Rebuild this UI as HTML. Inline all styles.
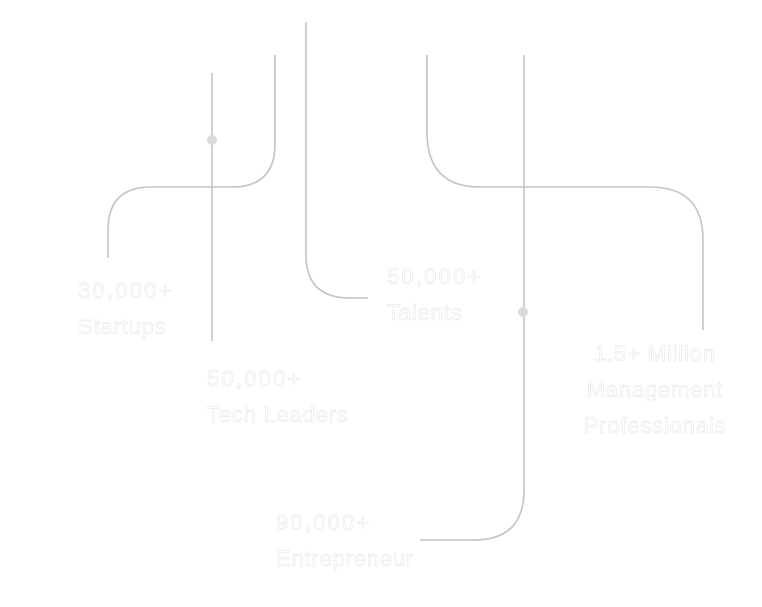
<!DOCTYPE html>
<html><head><meta charset="utf-8"><style>
html,body{margin:0;padding:0;background:#fff;}
body{width:762px;height:607px;position:relative;overflow:hidden;}
svg{position:absolute;left:0;top:0;}
text{font-family:"Liberation Sans",sans-serif;font-size:22px;letter-spacing:0.8px;fill:#fff;stroke:#e2e2e2;stroke-width:0.5px;}
text.n{letter-spacing:2.2px;}
</style></head><body>
<svg width="762" height="607" viewBox="0 0 762 607">
<g fill="none" stroke="#c4c4c4" stroke-width="1.6">
<path d="M108,258 V230 Q108,187 151,187 H232 Q275,187 275,144 V55"/>
<path d="M212,73 V341"/>
<path d="M306,22 V255 Q306,298 350,298 H368"/>
<path d="M427,55 V132 Q427,187 480,187 H650 Q703,187 703,240 V330"/>
<path d="M524,55 V490 Q524,540 474,540 H420"/>
</g>
<circle cx="212" cy="140" r="5" fill="#dadada"/>
<circle cx="523" cy="312" r="5" fill="#dadada"/>
<text class="n" x="78" y="298">30,000+</text>
<text x="78" y="334">Startups</text>
<text class="n" x="207" y="386">50,000+</text>
<text x="207" y="422">Tech Leaders</text>
<text class="n" x="387" y="284">50,000+</text>
<text x="387" y="320">Talents</text>
<text x="655" y="361" text-anchor="middle">1.5+ Million</text>
<text x="655" y="397" text-anchor="middle">Management</text>
<text x="655" y="433" text-anchor="middle">Professionals</text>
<text class="n" x="276" y="530">90,000+</text>
<text x="276" y="566">Entrepreneur</text>
</svg>
</body></html>
